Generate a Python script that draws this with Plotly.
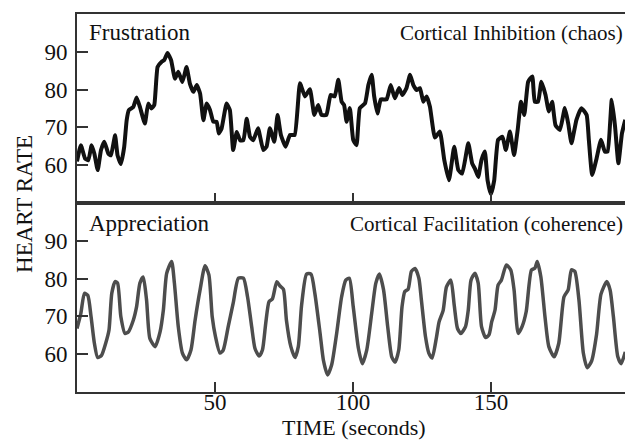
import plotly.graph_objects as go

# Frustration (upper panel) - time in seconds, heart rate in bpm
frust_t = [0, 1.4, 2.9, 4.1, 5.3, 6.3, 7.5, 8.7, 9.9, 11.4, 12.3, 13.8, 14.7, 15.9, 17.1, 18, 18.8, 20.4, 21.6, 22.8,
           24.6, 25.8, 27, 28, 29.2, 30.7, 31.6, 32.8, 34.1, 35.5, 36.7, 38.2, 39.7, 40.9, 42.2, 43.4, 44.6, 45.8, 47, 48.2,
           49.4, 50.6, 51.4, 52.4, 54.2, 55.4, 56.6, 57.9, 59.1, 60.3, 61.5, 62.7, 63.9, 65.6, 67.5, 68.7, 69.9, 71.5, 72.7, 73.9,
           75.6, 77.2, 78.9, 80.8, 82.6, 84.4, 86, 87.4, 88.6, 90.4, 91.9, 93.4, 94.7, 95.9, 96.8, 97.7, 98.9, 100.1, 101.3, 102.5,
           104.4, 105.6, 106.8, 107.7, 108.9, 110.1, 112.2, 113.7, 115.2, 116.7, 117.9, 119.4, 120.7, 121.9, 123.1, 124.3, 125.5, 126.7, 127.9, 129.7,
           131.5, 133.1, 134.8, 136.7, 138.2, 139.6, 141.8, 143.2, 144.2, 145.4, 146.6, 147.8, 148.8, 150, 151.2, 152.6, 154.2, 155.4, 156.9, 158.4,
           159.7, 160.9, 162.1, 163.5, 165, 165.9, 167.1, 168.3, 169.8, 171, 172.2, 173.4, 175, 176.8, 178, 179.2, 181, 182.8, 184.7, 185.5,
           186.7, 188.3, 189.9, 191.3, 192.3, 193.8, 195, 196.2, 197.5, 198.7]
frust_hr = [61, 65.3, 61.8, 61.3, 65.3, 63, 58.7, 64, 66.2, 63, 62.6, 67.9, 62.6, 60.3, 64.8, 71.9, 74.6, 75.4, 77.9, 75.4,
            71, 76.3, 75, 75.9, 86, 87.4, 87.8, 89.7, 87.8, 82.9, 84.7, 82, 86, 81.6, 79.4, 81.2, 79, 71.9, 76.3, 74.6,
            71.5, 71.5, 68.4, 69.7, 76.3, 74.6, 64, 68.8, 66.6, 66.6, 72.3, 67.5, 66.6, 69.8, 64, 64.9, 69.8, 66.2, 73.3, 68,
            64.9, 68, 68, 81.7, 78.2, 80.1, 73.3, 75.9, 73.3, 73.3, 78.6, 78.2, 82.6, 76.8, 75.9, 71.5, 75.1, 66.7, 65.3, 75.1,
            76.4, 81.2, 83.9, 78.2, 73.7, 77.4, 77.4, 81.2, 77.7, 80.4, 78.6, 80.4, 83.9, 81.2, 79.9, 80.4, 76.8, 78.2, 75.5, 67.3,
            68.9, 61.4, 56, 64.9, 58.7, 57.8, 65.8, 60.5, 59.1, 56.9, 61.4, 63.6, 56, 52.3, 56, 66.7, 67.5, 64, 68.9, 62.7,
            69.3, 76.8, 73.3, 82.1, 83.5, 76.8, 76.8, 82.1, 78.6, 74.2, 76.8, 70.6, 69.3, 75.1, 71.1, 65.8, 72, 75.1, 73.3, 66.7,
            57.4, 61.8, 66.7, 63.6, 63.6, 77.3, 70.2, 60.5, 68.4, 72]

# Appreciation (lower panel)
appr_t = [0, 1.4, 2.7, 3.9, 5.1, 6.3, 7.5, 8.9, 10.4, 11.6, 12.6, 13.8, 14.7, 15.9, 17.4, 18.6, 20.4, 21.6, 22.8, 24,
          25.2, 26.4, 28.3, 30.1, 31.3, 32.5, 34.3, 35.3, 36.7, 38.2, 39.7, 41.3, 42.8, 44.6, 46.4, 47.8, 49, 50.2, 51.8, 53,
          54.8, 56.6, 58.5, 60.3, 61.8, 63.3, 64.5, 66, 67.2, 68.4, 69.6, 70.8, 72.4, 73.5, 74.8, 75.9, 77.5, 79, 80.2, 81.4,
          83.2, 84.8, 86.2, 88.1, 89.3, 90.8, 92.3, 94.1, 95.9, 97.4, 98.7, 100.1, 102, 103.4, 105, 106.8, 108.3, 109.6, 111.1, 112.6,
          114.1, 115.3, 116.6, 117.8, 118.8, 120, 121.2, 122.5, 123.9, 124.8, 126.3, 127.5, 128.7, 130.3, 131.2, 132.7, 133.9, 135.5, 136.7, 137.9,
          139.1, 140.8, 141.8, 142.8, 144.2, 145.4, 146.6, 148.1, 149.3, 150.3, 151.5, 152.6, 153.8, 155.6, 157.2, 158.4, 159.9, 161.3, 162.8, 164.7,
          165.9, 166.8, 168.1, 169.6, 171, 172.9, 174.6, 176.5, 178, 179.2, 180.4, 181.9, 183.5, 184.9, 186.5, 188.3, 189.9, 192, 193.2, 194.4,
          196, 197.2, 198.7]
appr_hr = [66.8, 70.8, 76.1, 75.6, 69.9, 62.9, 59.1, 59.7, 62.9, 66.4, 76.1, 79.2, 78.8, 69.9, 65.5, 65.9, 69, 72.6, 78.8, 80.4,
           74.4, 64.2, 62, 65.9, 71.7, 81.4, 84.5, 78.8, 67.3, 60.3, 58.5, 61.1, 69, 77, 83.4, 81, 69.9, 64.6, 60.3, 61.1,
           67.3, 73.5, 80.1, 80.1, 75.2, 67.3, 61.5, 59.5, 61.1, 68.2, 73.9, 74.6, 79.2, 78.1, 77.2, 69, 62, 59.1, 62, 73,
           81.2, 81.2, 76.1, 65.5, 58.4, 54.5, 57.2, 65.5, 75.2, 79.6, 80.1, 72.6, 61.5, 57.5, 61.1, 70.8, 78.8, 81.2, 77, 67.3,
           59.2, 57.9, 61.1, 72.6, 76.6, 77.2, 81.9, 82.7, 80.1, 74.4, 64.6, 60.3, 59, 64.6, 68.5, 71.6, 77.8, 79.6, 73, 66.8,
           65.5, 67.3, 71.7, 79.6, 81.4, 78.8, 67.3, 64.4, 65.1, 68.6, 71.7, 78.3, 79.6, 83.6, 82.3, 77, 65.5, 67.3, 71.3, 82.3,
           82.7, 84.5, 80.5, 69.9, 62, 59.3, 62.9, 75.2, 77, 82.3, 81.9, 74.4, 60.3, 56.4, 58.2, 65.3, 75.9, 79.2, 77, 69.9,
           59.3, 57.5, 60.6]

x_ticks = [50, 100, 150]
y_ticks = [50, 60, 70, 80, 90, 100]
y_ticktext = ["", "60", "70", "80", "90", ""]

FONT = "Liberation Serif"
AX = "#333333"
TXT = "#111111"

fig = go.Figure()
fig.add_trace(go.Scatter(x=frust_t, y=frust_hr, xaxis="x2", yaxis="y2", mode="lines",
                         line=dict(color="#111111", width=4, shape="spline", smoothing=0.4), hoverinfo="skip"))
fig.add_trace(go.Scatter(x=appr_t, y=appr_hr, xaxis="x", yaxis="y", mode="lines",
                         line=dict(color="#4d4d4d", width=3.5, shape="spline", smoothing=0.6), hoverinfo="skip"))

xcommon = dict(range=[0, 198.6], showline=True, linecolor=AX, linewidth=2, mirror=True,
               ticks="inside", ticklen=10, tickwidth=1.5, tickcolor=AX, tickvals=x_ticks,
               showgrid=False, zeroline=False, fixedrange=True)
ycommon = dict(range=[50, 100], showline=True, linecolor=AX, linewidth=2,
               ticks="inside", ticklen=11, tickwidth=1.5, tickcolor=AX,
               tickvals=y_ticks, ticktext=y_ticktext, showgrid=False, zeroline=False,
               tickfont=dict(family=FONT, size=23, color=TXT), ticklabelstandoff=3, fixedrange=True)

fig.update_layout(
    width=625, height=443,
    margin=dict(l=77, r=0, t=14, b=51),
    paper_bgcolor="white", plot_bgcolor="white",
    showlegend=False,
    font=dict(family=FONT, color=TXT),
    xaxis=dict(**xcommon, anchor="y", tickfont=dict(family=FONT, size=23, color=TXT), ticklabelstandoff=-12),
    yaxis=dict(**ycommon, domain=[0, 0.5], anchor="x"),
    xaxis2=dict(**xcommon, anchor="y2", showticklabels=False),
    yaxis2=dict(**ycommon, domain=[0.5, 1], anchor="x2"),
)

ann = [
    dict(text="Frustration", x=0.018, y=0.951, xanchor="left", size=23),
    dict(text="Cortical Inhibition (chaos)", x=1.0, y=0.951, xanchor="right", size=21),
    dict(text="Appreciation", x=0.018, y=0.445, xanchor="left", size=23),
    dict(text="Cortical Facilitation (coherence)", x=1.0, y=0.445, xanchor="right", size=21),
]
for a in ann:
    fig.add_annotation(text=a["text"], xref="paper", yref="paper", x=a["x"], y=a["y"],
                       xanchor=a["xanchor"], yanchor="middle", showarrow=False,
                       font=dict(family=FONT, size=a["size"], color=TXT))

fig.add_annotation(text="HEART RATE", xref="paper", yref="paper", x=-0.097, y=0.497,
                   xanchor="center", yanchor="middle", textangle=-90, showarrow=False,
                   font=dict(family=FONT, size=23, color=TXT))
fig.add_annotation(text="TIME (seconds)", xref="paper", yref="paper", x=0.505, y=-0.0952,
                   xanchor="center", yanchor="middle", showarrow=False, borderpad=0,
                   font=dict(family=FONT, size=22, color=TXT))

fig.write_html("out.html")
